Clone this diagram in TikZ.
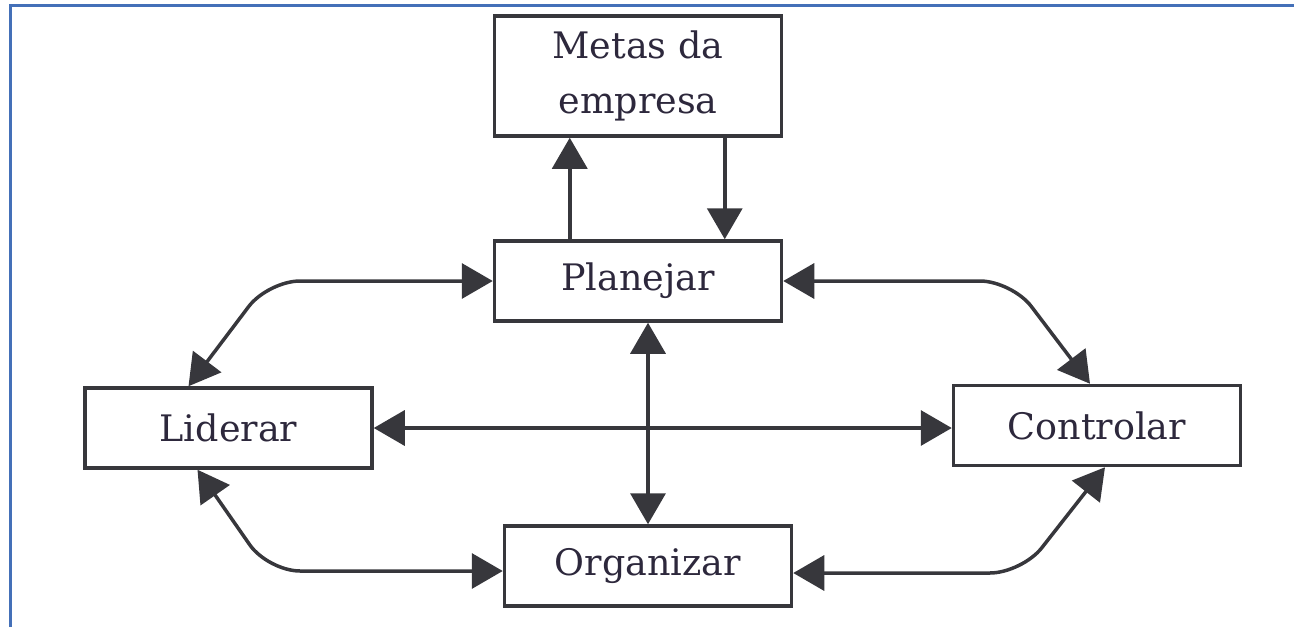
\documentclass[tikz,border=0pt]{standalone}
\usepackage{fontspec}
\setmainfont{DejaVu Serif}
\usetikzlibrary{arrows.meta}
\definecolor{boxc}{RGB}{55,55,60}
\definecolor{txtc}{RGB}{45,40,60}
\definecolor{frameb}{RGB}{68,112,184}
\begin{document}
\begin{tikzpicture}[x=1pt,y=-1pt,
  box/.style={draw=boxc, line width=3.5pt, fill=white, inner sep=0pt, text=txtc,
    font=\fontsize{36.5}{55}\selectfont, align=center, minimum width=287pt, minimum height=80pt},
  tipA/.tip={Triangle[length=31pt,width=35pt]},
  both/.style={draw=boxc, line width=3.5pt, tipA-tipA, rounded corners=32pt},
  one/.style={draw=boxc, line width=3.5pt, -tipA}]
\useasboundingbox (0,0) rectangle (1294,627);
\draw[frameb, line width=3pt] (10,627) -- (10,5) -- (1294,5);

\node[box, minimum height=120pt] (metas) at (638,76) {Metas da\\empresa};
\node[box] (plan) at (638,281) {Planejar};
\node[box] (lid) at (228.5,428) {Liderar};
\node[box] (ctrl) at (1097,425.5) {Controlar};
\node[box] (org) at (648,566) {Organizar};

\draw[one] ([xshift=77pt]plan.north west) -- ([xshift=77pt]metas.south west);
\draw[one] ([xshift=232pt]metas.south west) -- ([xshift=232pt]plan.north west);

\draw[both] (plan.west) -- (268,281) -- ([xshift=-40pt]lid.north);
\draw[both] (plan.east) -- (1012,281) -- ([xshift=-7pt]ctrl.north);
\draw[both] ([xshift=-31pt]lid.south) -- (268,571) -- ([yshift=-5pt]org.west);
\draw[both] ([xshift=8pt]ctrl.south) -- (1022,573) -- ([yshift=-7pt]org.east);

\draw[draw=boxc, line width=3.5pt, tipA-tipA] (lid.east) -- (lid.east -| ctrl.west);
\draw[draw=boxc, line width=3.5pt, tipA-tipA] (org.north) -- (org.north |- plan.south);
\end{tikzpicture}
\end{document}
